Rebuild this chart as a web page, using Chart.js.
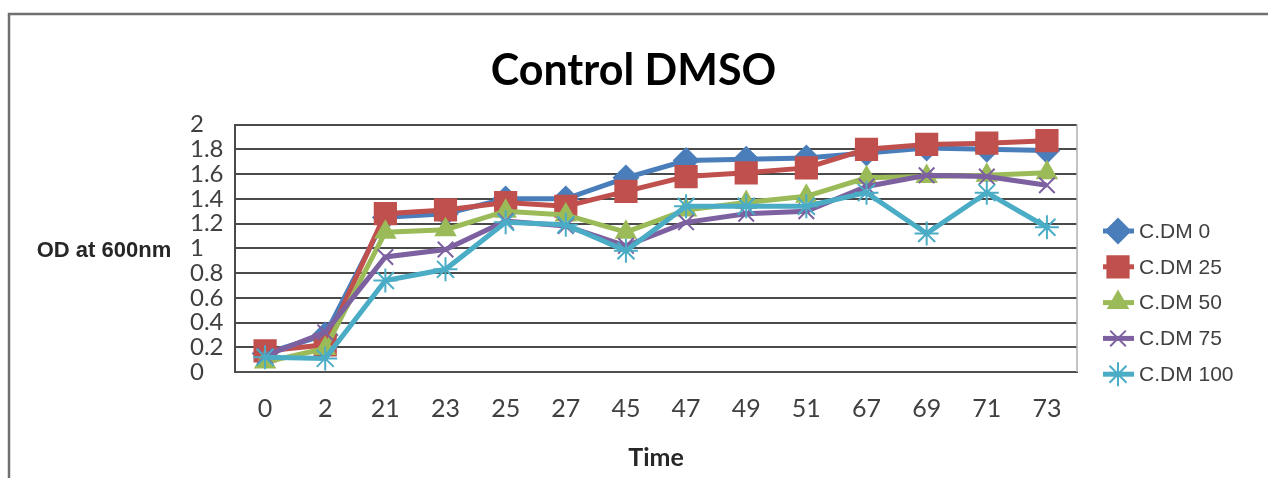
<!DOCTYPE html>
<html>
<head>
<meta charset="utf-8">
<title>Control DMSO</title>
<script src="https://cdn.jsdelivr.net/npm/chart.js@4.4.1/dist/chart.umd.min.js"></script>
<style>
  html, body { margin: 0; padding: 0; background: #ffffff; }
  #wrap { position: relative; width: 1268px; height: 478px; }
</style>
</head>
<body>
<div id="wrap"><canvas id="odChart"></canvas></div>
<script>
// sampling times (h)
const timeLabels = ['0', '2', '21', '23', '25', '27', '45', '47', '49', '51', '67', '69', '71', '73'];

// OD600 readings for each DMSO concentration
const cdm0   = [0.15, 0.30, 1.25, 1.28, 1.40, 1.40, 1.57, 1.71, 1.72, 1.73, 1.77, 1.81, 1.80, 1.79];
const cdm25  = [0.17, 0.22, 1.28, 1.31, 1.37, 1.34, 1.46, 1.58, 1.61, 1.65, 1.80, 1.84, 1.85, 1.87];
const cdm50  = [0.08, 0.19, 1.13, 1.15, 1.30, 1.27, 1.13, 1.31, 1.37, 1.42, 1.57, 1.58, 1.59, 1.61];
const cdm75  = [0.13, 0.32, 0.93, 0.99, 1.22, 1.18, 1.02, 1.21, 1.28, 1.30, 1.50, 1.59, 1.58, 1.51];
const cdm100 = [0.12, 0.11, 0.74, 0.83, 1.21, 1.19, 0.98, 1.34, 1.34, 1.34, 1.45, 1.12, 1.45, 1.17];

const seriesNames = ['C.DM 0', 'C.DM 25', 'C.DM 50', 'C.DM 75', 'C.DM 100'];
const yTicks = [0, 0.2, 0.4, 0.6, 0.8, 1, 1.2, 1.4, 1.6, 1.8, 2];

const face = 'Lato, "Open Sans", sans-serif';
const normal = '"Liberation Sans", Arial, sans-serif';

function makeSet(label, data, color, style, radius, order) {
    return {
        label: label,
        data: data,
        borderColor: color,
        backgroundColor: color,
        borderWidth: 5,
        pointStyle: style,
        pointRadius: radius,
        pointBackgroundColor: color,
        pointBorderColor: color,
        pointBorderWidth: 2,
        tension: 0,
        order: order
    };
}

// outer frame, horizontal y-axis caption, plot edge and a legend with line + marker
const decor = {
    id: 'decor',
    beforeDraw(chart) {
        const ctx = chart.ctx;
        ctx.save();
        ctx.fillStyle = '#ffffff';
        ctx.fillRect(0, 0, chart.width, chart.height);
        ctx.strokeStyle = '#707070';
        ctx.lineWidth = 2.5;
        ctx.beginPath();
        ctx.moveTo(9, chart.height);
        ctx.lineTo(9, 14);
        ctx.lineTo(chart.width, 14);
        ctx.stroke();
        ctx.restore();
    },
    afterDraw(chart) {
        const ctx = chart.ctx;
        const area = chart.chartArea;
        ctx.save();
        // right edge of the plot
        ctx.strokeStyle = '#b0b0b0';
        ctx.lineWidth = 1.5;
        ctx.beginPath();
        ctx.moveTo(area.right, area.top);
        ctx.lineTo(area.right, area.bottom);
        ctx.stroke();

        // y axis caption
        ctx.fillStyle = '#262626';
        ctx.font = 'bold 22px ' + normal;
        ctx.textAlign = 'center';
        ctx.textBaseline = 'middle';
        ctx.fillText('OD at 600nm', 104, 251);

        // legend
        ctx.font = '21px ' + normal;
        ctx.textAlign = 'left';
        const top = 231, step = 35.8;
        chart.data.datasets.forEach((ds, i) => {
            const y = top + i * step;
            ctx.strokeStyle = ds.borderColor;
            ctx.lineWidth = 5;
            ctx.beginPath();
            ctx.moveTo(1103, y);
            ctx.lineTo(1134, y);
            ctx.stroke();
            ctx.lineWidth = 2;
            ctx.fillStyle = ds.borderColor;
            Chart.helpers.drawPoint(ctx, {
                pointStyle: ds.pointStyle,
                radius: ds.pointRadius,
                borderWidth: 2
            }, 1118, y);
            ctx.fillStyle = '#404040';
            ctx.fillText(ds.label, 1139, y + 1);
        });
        ctx.restore();
    }
};

const chart = new Chart(document.getElementById('odChart'), {
    type: 'line',
    data: {
        labels: timeLabels,
        datasets: [
            makeSet(seriesNames[0], cdm0, '#4A7EBB', 'rectRot', 12, 5),
            makeSet(seriesNames[1], cdm25, '#C0504D', 'rect', 15, 4),
            makeSet(seriesNames[2], cdm50, '#9BBB59', 'triangle', 11, 3),
            makeSet(seriesNames[3], cdm75, '#7D60A0', 'crossRot', 11, 2),
            makeSet(seriesNames[4], cdm100, '#4BACC6', 'star', 12, 1)
        ]
    },
    options: {
        responsive: true,
        maintainAspectRatio: false,
        animation: false,
        layout: {
            padding: { top: 0, left: 190, right: 191, bottom: 0 }
        },
        plugins: {
            legend: { display: false },
            tooltip: { enabled: false },
            title: {
                display: true,
                text: 'Control DMSO',
                color: '#000000',
                font: { family: face, size: 43, weight: 'bold', lineHeight: 1.2 },
                padding: { top: 45, bottom: 28 }
            }
        },
        scales: {
            x: {
                offset: true,
                grid: { display: false, drawTicks: false },
                border: { display: true, color: '#505050', width: 2 },
                ticks: {
                    color: '#404040',
                    padding: 22,
                    font: { family: face, size: 25 }
                },
                title: {
                    display: true,
                    text: 'Time',
                    color: '#262626',
                    font: { family: face, size: 25, weight: 'bold', lineHeight: 1.2 },
                    padding: { top: 0, bottom: 5 }
                },
                afterFit(scale) { scale.height = 106; }
            },
            y: {
                min: 0,
                max: 2,
                afterBuildTicks(scale) {
                    scale.ticks = yTicks.map(v => ({ value: v }));
                },
                grid: { color: '#4a4a4a', lineWidth: 2, drawTicks: false },
                border: { display: true, color: '#4a4a4a', width: 2 },
                ticks: {
                    autoSkip: false,
                    crossAlign: 'far',
                    color: '#404040',
                    padding: 12,
                    font: { family: face, size: 24, lineHeight: 1 },
                    callback: v => String(+v.toFixed(1))
                },
                afterFit(scale) { scale.width = 45; }
            }
        }
    },
    plugins: [decor]
});
</script>
</body>
</html>
